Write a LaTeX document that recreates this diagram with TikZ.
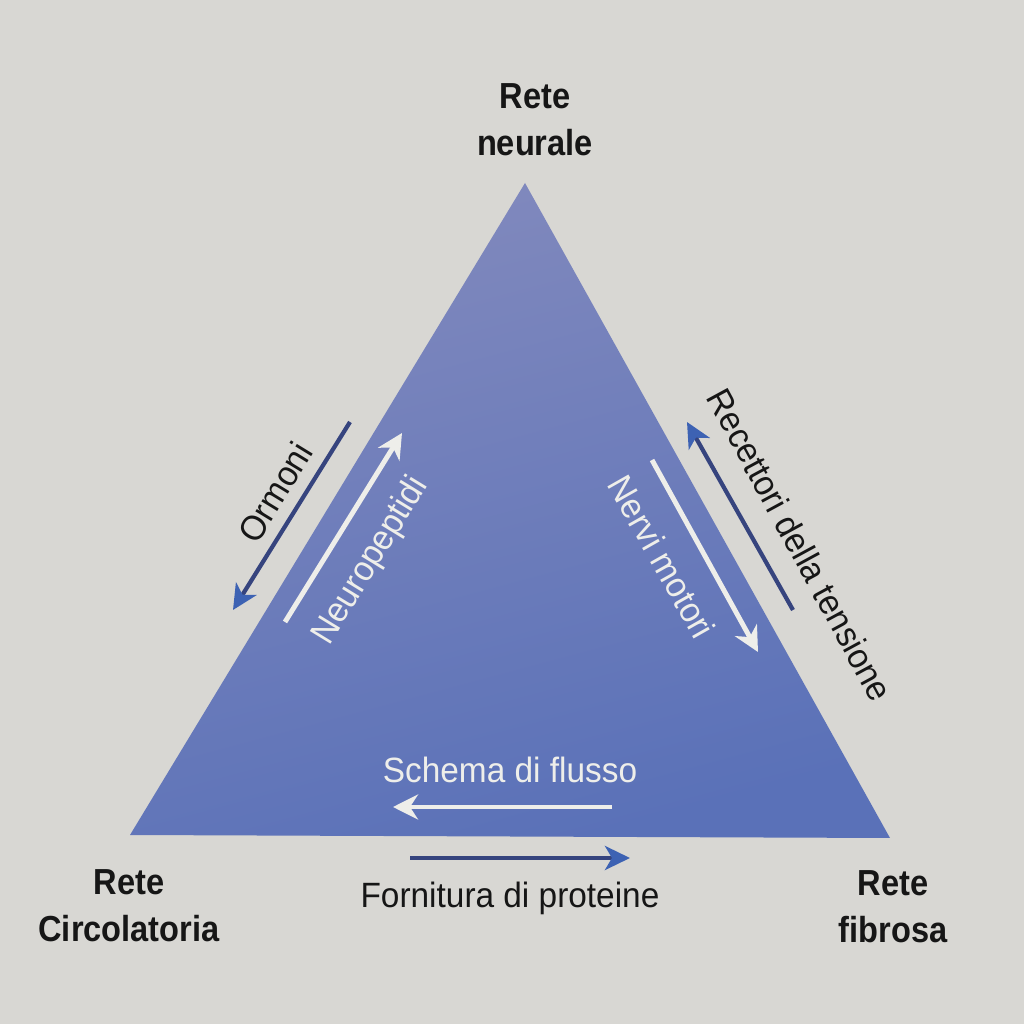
\documentclass[tikz,border=0pt]{standalone}
\usepackage{fontspec}
\setmainfont{Liberation Sans}[FakeStretch=0.95]
\newfontfamily\labfont{Liberation Sans}[FakeStretch=0.9]
\usetikzlibrary{arrows.meta}
\definecolor{bgc}{HTML}{D8D7D3}
\definecolor{tritop}{HTML}{8189BD}
\definecolor{tribot}{HTML}{5A71B8}
\definecolor{navy}{HTML}{36447E}
\definecolor{headblue}{HTML}{3D62B3}
\definecolor{whitish}{HTML}{EEEEEA}
\definecolor{ink}{HTML}{161616}
\tikzset{
  vlabel/.style={align=center, text=ink, font=\labfont\bfseries\fontsize{10.3}{13.4}\selectfont, inner sep=0pt},
  tlabel/.style={text=ink, font=\fontsize{10}{12}\selectfont, inner sep=0pt},
  wlabel/.style={text=whitish, font=\fontsize{10}{12}\selectfont, inner sep=0pt},
  bluearrow/.style={draw=navy, line width=1.2pt, -{Stealth[length=2.5mm, width=2.4mm, inset=0.7mm, color=headblue]}},
  whitearrow/.style={draw=whitish, line width=1.4pt, -{Stealth[length=2.5mm, width=2.5mm, inset=0.8mm]}}
}
\begin{document}
\begin{tikzpicture}
\useasboundingbox (0,0) rectangle (10.24,10.24);
\fill[bgc] (0,0) rectangle (10.24,10.24);
% triangle
\coordinate (apex) at (5.25,8.41);
\coordinate (bl) at (1.30,1.89);
\coordinate (br) at (8.90,1.86);
\shade[top color=tritop, bottom color=tribot, shading angle=15] (apex) -- (br) -- (bl) -- cycle;
% vertex labels
\node[vlabel] (neur) at (5.35,9.04) {Rete\\neurale};
\node[vlabel] (circ) at (1.29,1.18) {Rete\\Circolatoria};
\node[vlabel] (fibr) at (8.93,1.17) {Rete\\fibrosa};
% left side
\coordinate (orS) at (3.50,6.02);
\coordinate (orE) at (2.33,4.14);
\draw[bluearrow] (orS) -- (orE);
\node[tlabel, rotate=58.5] (ormoni) at (2.75,5.32) {Ormoni};
\coordinate (neS) at (2.85,4.02);
\coordinate (neE) at (4.02,5.91);
\draw[whitearrow] (neS) -- (neE);
\node[wlabel, rotate=58.5] (neuro) at (3.71,4.63) {Neuropeptidi};
% right side
\coordinate (reS) at (7.93,4.14);
\coordinate (reE) at (6.87,6.02);
\draw[bluearrow] (reS) -- (reE);
\node[tlabel, rotate=-61.5] (recet) at (8.00,4.79) {Recettori della tensione};
\coordinate (nmS) at (6.52,5.64);
\coordinate (nmE) at (7.58,3.72);
\draw[whitearrow] (nmS) -- (nmE);
\node[wlabel, rotate=-60.5] (nervi) at (6.62,4.67) {Nervi motori};
% bottom
\coordinate (scS) at (6.12,2.17);
\coordinate (scE) at (3.93,2.17);
\draw[whitearrow] (scS) -- (scE);
\node[wlabel] (schema) at (5.10,2.54) {Schema di flusso};
\coordinate (foS) at (4.10,1.66);
\coordinate (foE) at (6.30,1.66);
\draw[bluearrow] (foS) -- (foE);
\node[tlabel] (fornit) at (5.10,1.26) {Fornitura di proteine};
\end{tikzpicture}
\end{document}
